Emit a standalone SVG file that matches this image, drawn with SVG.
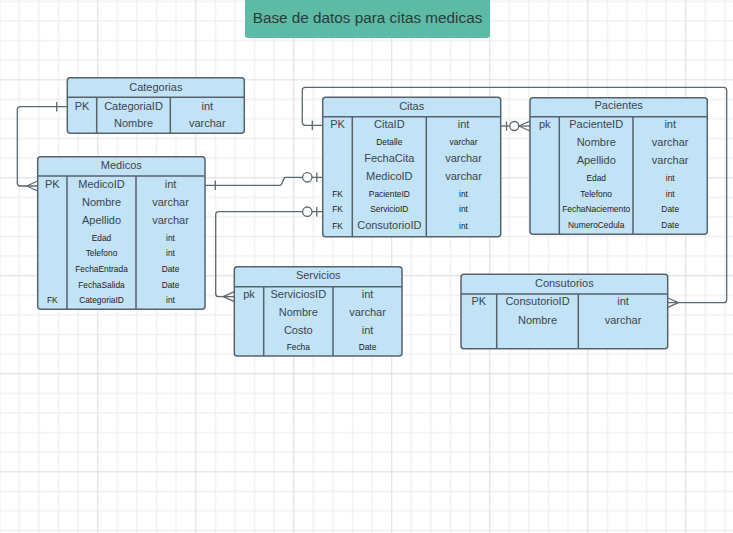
<svg xmlns="http://www.w3.org/2000/svg" width="733" height="533" viewBox="0 0 733 533">
<defs>
<pattern id="grid" x="-0.7" y="-18.7" width="98" height="98" patternUnits="userSpaceOnUse">
<rect x="0" y="0" width="98" height="98" fill="#ffffff"/>
<g fill="#ebebeb">
<rect x="19.6" y="0" width="1" height="98"/><rect x="39.2" y="0" width="1" height="98"/><rect x="58.8" y="0" width="1" height="98"/><rect x="78.4" y="0" width="1" height="98"/>
<rect x="0" y="19.6" width="98" height="1"/><rect x="0" y="39.2" width="98" height="1"/><rect x="0" y="58.8" width="98" height="1"/><rect x="0" y="78.4" width="98" height="1"/>
</g>
<g fill="#dcdcdc"><rect x="0" y="0" width="1" height="98"/><rect x="0" y="0" width="98" height="1"/></g>
</pattern>
<style>
.tbl{fill:#c2e2f5;stroke:#56636d;stroke-width:1.5}
.ln{stroke:#56636d;stroke-width:1.5;fill:none}
.t{font-family:"Liberation Sans",Arial,sans-serif;font-size:11px;fill:#3a4650;text-anchor:middle}
.s{font-family:"Liberation Sans",Arial,sans-serif;font-size:8.4px;fill:#222;text-anchor:middle}
.c{stroke:#5e6870;stroke-width:1.3;fill:none}
.o{stroke:#5e6870;stroke-width:1.3;fill:#ffffff}
</style>
</defs>
<rect x="0" y="0" width="733" height="533" fill="url(#grid)"/>

<g id="title">
<rect x="245" y="-4" width="245" height="42" rx="3" fill="#5cbaa5"/>
<text x="367.5" y="23" font-family="Liberation Sans, Arial, sans-serif" font-size="15.3" fill="#2f3b38" text-anchor="middle">Base de datos para citas medicas</text>
</g>

<g id="connectors">
<!-- Categorias - Medicos -->
<path class="c" d="M67.3,106.7 H20.3 Q17.3,106.7 17.3,109.7 V183 Q17.3,186 20.3,186 H37.7"/>
<path class="c" d="M56.7,102 V111.5"/>
<path class="c" d="M26.7,186 L37.7,181 M26.7,186 L37.7,191"/>
<!-- Medicos - Citas -->
<path class="c" d="M205,185.3 H280 C283,185.3 282.5,177.3 285.5,177.3 H322.7"/>
<path class="c" d="M215.3,180.5 V190"/>
<circle class="o" cx="307.3" cy="177.3" r="4.7"/>
<path class="c" d="M316.8,172.5 V182"/>
<!-- Citas - Servicios -->
<path class="c" d="M322.7,211.7 H218.7 Q215.7,211.7 215.7,214.7 V293.7 Q215.7,296.7 218.7,296.7 H234.3"/>
<circle class="o" cx="307.3" cy="211.7" r="4.7"/>
<path class="c" d="M316.8,207 V216.5"/>
<path class="c" d="M223.3,296.7 L234.3,291.7 M223.3,296.7 L234.3,301.7"/>
<!-- Citas - Pacientes -->
<path class="c" d="M500.7,126 H530"/>
<path class="c" d="M506.5,121.3 V130.7"/>
<circle class="o" cx="514.3" cy="126" r="4.5"/>
<path class="c" d="M519,126 L530,121 M519,126 L530,131"/>
<!-- Citas - Consutorios -->
<path class="c" d="M322.7,125.3 H305.3 Q302.3,125.3 302.3,122.3 V90.3 Q302.3,87.3 305.3,87.3 H723.7 Q726.7,87.3 726.7,90.3 V299.7 Q726.7,302.7 723.7,302.7 H667.7"/>
<path class="c" d="M312.3,120.5 V130"/>
<path class="c" d="M678.3,302.7 L668,298 M678.3,302.7 L668,307.4"/>
</g>

<g id="categorias">
<rect class="tbl" x="67.3" y="77.7" width="177" height="55.6" rx="3"/>
<path class="ln" d="M67.3,97.3 H244.3 M96.7,97.3 V133.3 M170.3,97.3 V133.3"/>
<text class="t" x="155.8" y="90.5">Categorias</text>
<text class="t" x="82" y="109.5">PK</text>
<text class="t" x="133.5" y="109.5">CategoriaID</text>
<text class="t" x="207.3" y="109.5">int</text>
<text class="t" x="133.5" y="127">Nombre</text>
<text class="t" x="207.3" y="127">varchar</text>
</g>

<g id="medicos">
<rect class="tbl" x="37.7" y="156.7" width="167.3" height="152.6" rx="3"/>
<path class="ln" d="M37.7,176 H205 M67,176 V309.3 M136,176 V309.3"/>
<text class="t" x="121.3" y="168.5">Medicos</text>
<text class="t" x="52.3" y="188">PK</text>
<text class="t" x="101.5" y="188">MedicoID</text>
<text class="t" x="170.5" y="188">int</text>
<text class="t" x="101.5" y="206">Nombre</text>
<text class="t" x="170.5" y="206">varchar</text>
<text class="t" x="101.5" y="224">Apellido</text>
<text class="t" x="170.5" y="224">varchar</text>
<text class="s" x="101.5" y="240.5">Edad</text>
<text class="s" x="170.5" y="240.5">int</text>
<text class="s" x="101.5" y="256">Telefono</text>
<text class="s" x="170.5" y="256">int</text>
<text class="s" x="101.5" y="272">FechaEntrada</text>
<text class="s" x="170.5" y="272">Date</text>
<text class="s" x="101.5" y="287.7">FechaSalida</text>
<text class="s" x="170.5" y="287.7">Date</text>
<text class="s" x="52.3" y="303">FK</text>
<text class="s" x="101.5" y="303">CategoriaID</text>
<text class="s" x="170.5" y="303">int</text>
</g>

<g id="citas">
<rect class="tbl" x="322.7" y="97.3" width="178" height="139.4" rx="3"/>
<path class="ln" d="M322.7,116.7 H500.7 M352.3,116.7 V236.7 M426.3,116.7 V236.7"/>
<text class="t" x="411.7" y="109.5">Citas</text>
<text class="t" x="337.5" y="128">PK</text>
<text class="t" x="389.3" y="128">CitaID</text>
<text class="t" x="463.5" y="128">int</text>
<text class="s" x="389.3" y="144.5">Detalle</text>
<text class="s" x="463.5" y="144.5">varchar</text>
<text class="t" x="389.3" y="162">FechaCita</text>
<text class="t" x="463.5" y="162">varchar</text>
<text class="t" x="389.3" y="180">MedicoID</text>
<text class="t" x="463.5" y="180">varchar</text>
<text class="s" x="337.5" y="196.7">FK</text>
<text class="s" x="389.3" y="196.7">PacienteID</text>
<text class="s" x="463.5" y="196.7">int</text>
<text class="s" x="337.5" y="212.3">FK</text>
<text class="s" x="389.3" y="212.3">ServicioID</text>
<text class="s" x="463.5" y="212.3">int</text>
<text class="s" x="337.5" y="229">FK</text>
<text class="t" x="389.3" y="229">ConsutorioID</text>
<text class="s" x="463.5" y="229">int</text>
</g>

<g id="pacientes">
<rect class="tbl" x="530" y="97.7" width="177.3" height="136.6" rx="3"/>
<path class="ln" d="M530,116.7 H707.3 M559.3,116.7 V234.3 M633,116.7 V234.3"/>
<text class="t" x="618.7" y="109.3">Pacientes</text>
<text class="t" x="544.7" y="128">pk</text>
<text class="t" x="596.2" y="128">PacienteID</text>
<text class="t" x="670.2" y="128">int</text>
<text class="t" x="596.2" y="146">Nombre</text>
<text class="t" x="670.2" y="146">varchar</text>
<text class="t" x="596.2" y="164">Apellido</text>
<text class="t" x="670.2" y="164">varchar</text>
<text class="s" x="596.2" y="181">Edad</text>
<text class="s" x="670.2" y="181">int</text>
<text class="s" x="596.2" y="196.7">Telefono</text>
<text class="s" x="670.2" y="196.7">int</text>
<text class="s" x="596.2" y="212.3">FechaNaciemento</text>
<text class="s" x="670.2" y="212.3">Date</text>
<text class="s" x="596.2" y="228">NumeroCedula</text>
<text class="s" x="670.2" y="228">Date</text>
</g>

<g id="servicios">
<rect class="tbl" x="234.3" y="266.7" width="167.7" height="89.3" rx="3"/>
<path class="ln" d="M234.3,286.7 H402 M263.7,286.7 V356 M333,286.7 V356"/>
<text class="t" x="318.2" y="278.7">Servicios</text>
<text class="t" x="249" y="298">pk</text>
<text class="t" x="298.3" y="298">ServiciosID</text>
<text class="t" x="367.5" y="298">int</text>
<text class="t" x="298.3" y="316">Nombre</text>
<text class="t" x="367.5" y="316">varchar</text>
<text class="t" x="298.3" y="334">Costo</text>
<text class="t" x="367.5" y="334">int</text>
<text class="s" x="298.3" y="350.3">Fecha</text>
<text class="s" x="367.5" y="350.3">Date</text>
</g>

<g id="consutorios">
<rect class="tbl" x="461" y="274.3" width="206.7" height="74.4" rx="3"/>
<path class="ln" d="M461,294 H667.7 M496.7,294 V348.7 M578.3,294 V348.7"/>
<text class="t" x="564.3" y="287">Consutorios</text>
<text class="t" x="478.8" y="305.3">PK</text>
<text class="t" x="537.5" y="305.3">ConsutorioID</text>
<text class="t" x="623" y="305.3">int</text>
<text class="t" x="537.5" y="323.5">Nombre</text>
<text class="t" x="623" y="323.5">varchar</text>
</g>
</svg>
